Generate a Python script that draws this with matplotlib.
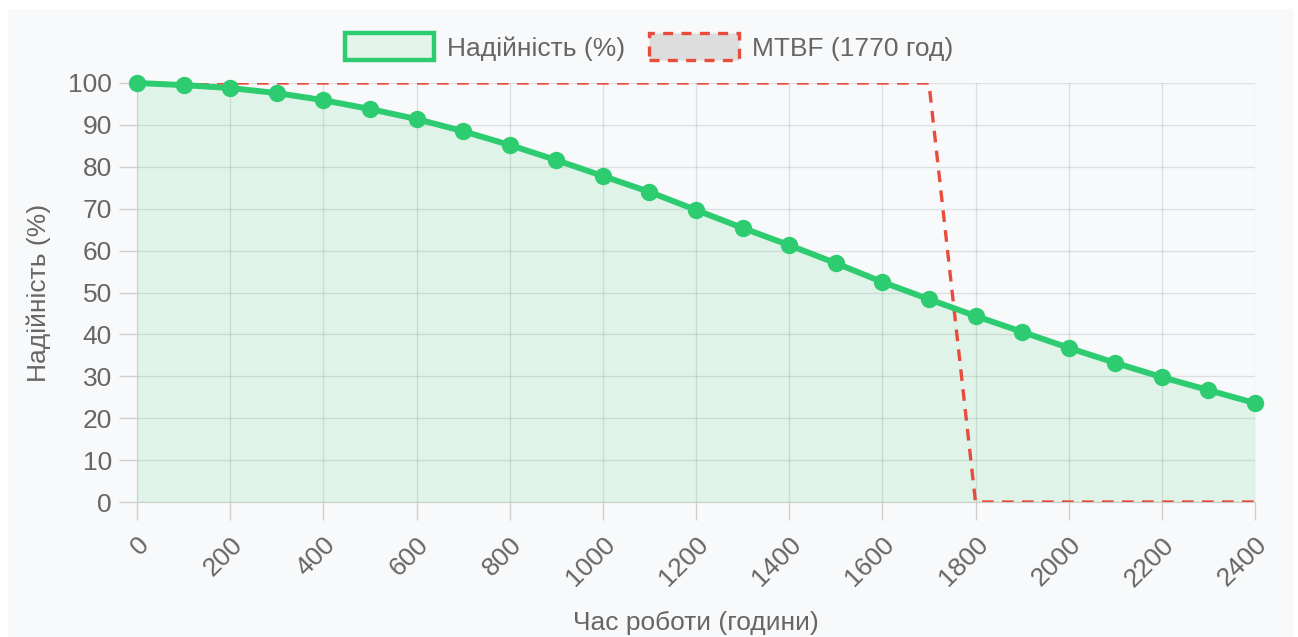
import matplotlib.pyplot as plt
from matplotlib.patches import Patch, Rectangle

# data
hours = [0, 100, 200, 300, 400, 500, 600, 700, 800, 900, 1000, 1100, 1200,
         1300, 1400, 1500, 1600, 1700, 1800, 1900, 2000, 2100, 2200, 2300, 2400]
reliability = [100, 99.5, 98.8, 97.6, 95.9, 93.8, 91.4, 88.5, 85.2, 81.6, 77.8, 74.0, 69.7,
               65.4, 61.3, 57.0, 52.5, 48.4, 44.4, 40.6, 36.8, 33.2, 29.8, 26.7, 23.6]
mtbf_step = [100, 100, 100, 100, 100, 100, 100, 100, 100, 100, 100, 100, 100,
             100, 100, 100, 100, 100, 0, 0, 0, 0, 0, 0, 0]
x_ticks = [0, 200, 400, 600, 800, 1000, 1200, 1400, 1600, 1800, 2000, 2200, 2400]
y_ticks = [0, 10, 20, 30, 40, 50, 60, 70, 80, 90, 100]

green = "#2ecc71"
red = "#e74c3c"
txt = "#666666"
bg = "#f8f9fa"
W, H = 1298, 637

plt.rcParams["font.family"] = ["Liberation Sans", "DejaVu Sans"]

fig = plt.figure(figsize=(12.98, 6.37), dpi=100, facecolor="white")
# card background (white strip on left/right/top)
fig.patches.append(Rectangle((8 / W, 0), (1294 - 8) / W, (H - 9) / H,
                             transform=fig.transFigure, facecolor=bg, edgecolor="none", zorder=-10))

ax = fig.add_axes([137 / W, 1 - 502 / H, (1255 - 137) / W, (502 - 83) / H])
ax.set_facecolor(bg)

# mtbf dashed line (under the green one)
ax.plot(hours, mtbf_step, color=red, lw=2.4, dashes=(3.5, 2.5), zorder=3)

# reliability curve
ax.fill_between(hours, reliability, 0, color=green, alpha=0.12, lw=0, zorder=2)
ax.plot(hours, reliability, color=green, lw=4.3, marker="o", markersize=11.5,
        markerfacecolor=green, markeredgecolor=green, zorder=4, clip_on=False)

ax.set_xlim(0, 2400)
ax.set_ylim(0, 100)
ax.set_xticks(x_ticks)
ax.set_yticks(y_ticks)
ax.set_xticklabels([str(v) for v in x_ticks], rotation=45, ha="right", va="top",
                   rotation_mode="anchor")
ax.grid(True, color="#000000", alpha=0.1, lw=1)
ax.set_axisbelow(True)
for s in ["top", "right"]:
    ax.spines[s].set_visible(False)
for s in ["left", "bottom"]:
    ax.spines[s].set_color("#cccccc")
ax.tick_params(axis="both", colors="#d0d0d0", labelcolor=txt, labelsize=19, length=13, width=1)
ax.tick_params(axis="x", pad=9)
ax.tick_params(axis="y", pad=5)

ax.set_xlabel("Час роботи (години)", fontsize=19, color=txt, labelpad=14)
ax.set_ylabel("Надійність (%)", fontsize=19, color=txt, labelpad=12)

handles = [
    Patch(facecolor="#e3f5ea", edgecolor=green, lw=3.2, label="Надійність (%)"),
    Patch(facecolor="#dddddd", edgecolor=red, lw=2.4, linestyle=(0, (3, 2.5)), label="MTBF (1770 год)"),
]
fig.legend(handles=handles, loc="upper center", bbox_to_anchor=(0.5, 0.985), ncol=2,
           frameon=False, fontsize=19, labelcolor=txt, handlelength=3.4, handleheight=1.2,
           handletextpad=0.5, columnspacing=0.9)

fig.savefig("out.png", dpi=100, facecolor="white")
